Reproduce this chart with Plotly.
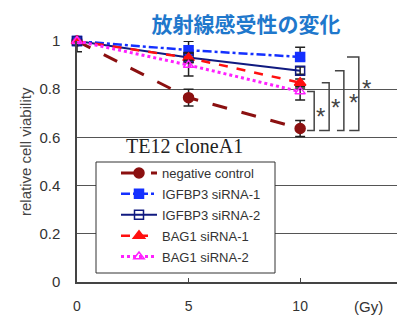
import plotly.graph_objects as go

doses = [0, 5, 10]
series_names = ["negative control", "IGFBP3 siRNA-1", "IGFBP3 siRNA-2", "BAG1 siRNA-1", "BAG1 siRNA-2"]
neg_ctrl = [1.0, 0.765, 0.637]
igfbp3_1 = [1.0, 0.962, 0.934]
igfbp3_2 = [1.0, 0.932, 0.877]
bag1_1 = [1.0, 0.93, 0.827]
bag1_2 = [1.0, 0.90, 0.79]

err_plus = {
    "negative control": [0, 0.035, 0.033],
    "IGFBP3 siRNA-1": [0, 0.037, 0.04],
    "IGFBP3 siRNA-2": [0, 0.02, 0.015],
    "BAG1 siRNA-1": [0, 0.02, 0.015],
    "BAG1 siRNA-2": [0, 0.02, 0.015],
}
err_minus = {
    "negative control": [0, 0.035, 0.033],
    "IGFBP3 siRNA-1": [0, 0.02, 0.015],
    "IGFBP3 siRNA-2": [0, 0.02, 0.015],
    "BAG1 siRNA-1": [0, 0.02, 0.015],
    "BAG1 siRNA-2": [0.045, 0.045, 0.035],
}

values = [neg_ctrl, igfbp3_1, igfbp3_2, bag1_1, bag1_2]
colors = ["#8b1010", "#1430ff", "#101a80", "#ff1010", "#ff20ff"]
dashes = ["longdash", "dashdot", "solid", "dash", "dot"]
symbols = ["circle", "square", "square-open", "triangle-up", "triangle-up-open"]
widths = [3, 2.5, 2, 2.5, 3]
msizes = [10, 9, 9, 10, 9]

fig = go.Figure()
for name, vals, c, d, s, w, ms in zip(series_names, values, colors, dashes, symbols, widths, msizes):
    fig.add_trace(go.Scatter(
        x=doses, y=vals, name=name, mode="lines+markers",
        line=dict(color=c, dash=d, width=w),
        marker=dict(symbol=s, size=ms, color=c, line=dict(color=c, width=1.5)),
        error_y=dict(type="data", symmetric=False, array=err_plus[name],
                     arrayminus=err_minus[name], color="#222", thickness=1.5, width=5),
        cliponaxis=False, legendgroup=name,
    ))

# significance brackets: comparison of each siRNA vs negative control at 10 Gy
bottom = neg_ctrl[2] - 0.008
brackets = [
    (bag1_2[2], 10.31, 10.63, 10.31, (10.92, 0.713)),
    (bag1_1[2], 10.97, 11.30, 10.85, (11.60, 0.748)),
    (igfbp3_2[2], 11.56, 11.96, 11.65, (12.37, 0.769)),
    (igfbp3_1[2], 12.10, 12.63, 12.20, (12.99, 0.827)),
]
for top, x0, xv, xb, (sx, sy) in brackets:
    fig.add_shape(type="path",
                  path=f"M {x0} {top} L {xv} {top} L {xv} {bottom} L {xb} {bottom}",
                  line=dict(color="#444", width=1.5), xref="x", yref="y")
    fig.add_annotation(x=sx, y=sy, text="*", showarrow=False,
                       font=dict(size=24, color="#444", family="Liberation Sans"),
                       xref="x", yref="y", yshift=-6)

# page offset (browser body margin) compensation
OFF = 8
W, H = 405 - OFF, 316 - OFF
PL, PT, PW, PH = 77 - OFF, 41 - OFF, 328, 241

def px_to_paper(px, py):
    # px, py in reference-image pixels
    return (px - OFF - PL) / PW, (PT + PH - (py - OFF)) / PH

tx, ty = px_to_paper(184, 146)
fig.add_annotation(x=tx, y=ty, xref="paper", yref="paper", text="TE12 cloneA1",
                   xanchor="center", yanchor="middle",
                   showarrow=False, font=dict(family="Liberation Serif", size=20, color="#222"))
gx, gy = px_to_paper(368, 306)
fig.add_annotation(x=gx, y=gy, xref="paper", yref="paper", text="(Gy)",
                   xanchor="center", yanchor="middle",
                   showarrow=False, font=dict(family="Liberation Sans", size=15, color="#333"))
yx, yy = px_to_paper(25, 152)
fig.add_annotation(x=yx, y=yy, xref="paper", yref="paper", text="relative cell viability",
                   xanchor="center", yanchor="middle", textangle=-90,
                   showarrow=False, font=dict(family="Liberation Sans", size=15, color="#444"))

# legend frame
bx0, by0 = px_to_paper(96, 273)
bx1, by1 = px_to_paper(275, 162)
fig.add_shape(type="rect", xref="paper", yref="paper", x0=bx0, y0=by0, x1=bx1, y1=by1,
              fillcolor="white", line=dict(color="#333", width=1), layer="above")

lx, ly = px_to_paper(116, 158)
fig.update_layout(
    width=W, height=H,
    margin=dict(l=PL, r=W - PL - PW, t=PT, b=H - PT - PH, autoexpand=False),
    paper_bgcolor="white", plot_bgcolor="white",
    title=dict(text="<b>放射線感受性の変化</b>", x=(246 - OFF) / W, y=1 - (25 - OFF) / H,
               xanchor="center", yanchor="middle", xref="container", yref="container",
               font=dict(family="Noto Sans CJK JP", size=21, color="#1f78cc")),
    showlegend=True,
    legend=dict(x=lx, y=ly, xanchor="left", yanchor="top",
                bgcolor="rgba(0,0,0,0)", borderwidth=0,
                font=dict(family="Liberation Sans", size=13, color="#333"),
                tracegroupgap=1, itemwidth=36),
    xaxis=dict(range=[0, 14.7], tickvals=[0, 5, 10], ticktext=["0", "5", "10"],
               ticks="inside", ticklen=4, tickcolor="#444", showgrid=False, zeroline=False,
               showline=True, linecolor="#444", linewidth=1.5,
               tickfont=dict(family="Liberation Sans", size=14, color="#333"),
               ticklabelstandoff=10),
    yaxis=dict(range=[0, 1], tickvals=[0, 0.2, 0.4, 0.6, 0.8, 1.0],
               ticktext=["0", "0.2", "0.4", "0.6", "0.8", "1"],
               showgrid=True, gridcolor="#555", gridwidth=1, zeroline=False,
               showline=True, linecolor="#444", linewidth=1.5, ticks="",
               tickfont=dict(family="Liberation Sans", size=15, color="#333"),
               ticklabelstandoff=12),
)

fig.write_html("out.html")
